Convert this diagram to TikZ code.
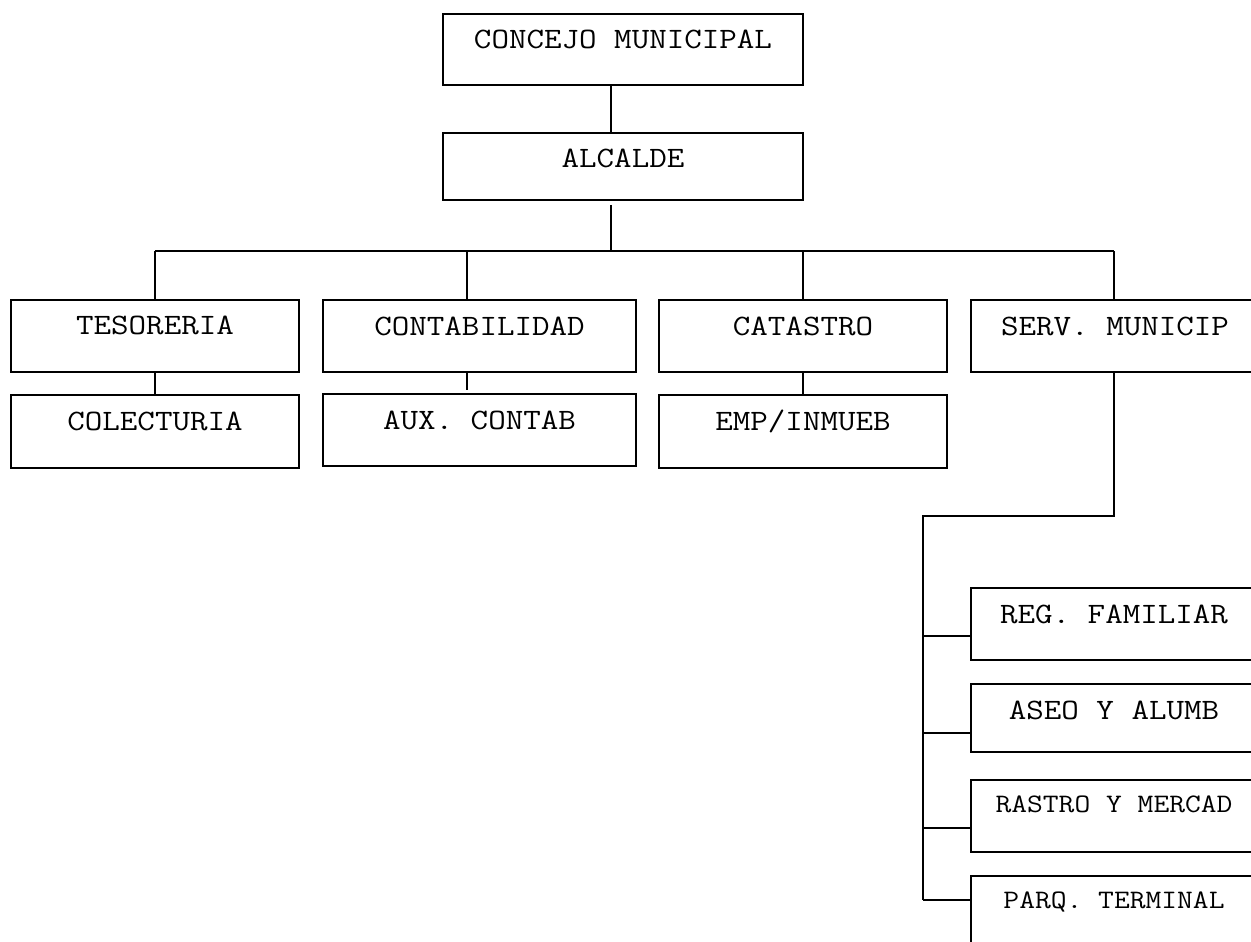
\documentclass[tikz,border=0pt]{standalone}
\usepackage{fontspec}
\setmainfont[FakeStretch=1.15]{Latin Modern Mono}
\usetikzlibrary{calc}
\tikzset{
  box/.style={draw=black, line width=1.4pt, rectangle, inner sep=0pt, outer sep=0pt},
  lbl/.style={anchor=base, inner sep=0pt, font=\fontsize{22.2pt}{26pt}\selectfont},
  lblsm/.style={anchor=base, inner sep=0pt, font=\fontsize{20pt}{24pt}\selectfont},
  conn/.style={draw=black, line width=1.4pt}
}
\begin{document}
\begin{tikzpicture}[x=0.75pt,y=-0.75pt]
\useasboundingbox (0,0) rectangle (1251,941);
\fill[white] (0,0) rectangle (1251,941);
\clip (0,0) rectangle (1251,941);
% boxes
\node[box, minimum width=360*0.75pt, minimum height=71*0.75pt] (cm) at (623,49.5) {};
\node[box, minimum width=360*0.75pt, minimum height=67*0.75pt] (al) at (623,166.5) {};
\node[box, minimum width=288*0.75pt, minimum height=72*0.75pt] (te) at (155,336) {};
\node[box, minimum width=288*0.75pt, minimum height=73*0.75pt] (co) at (155,431.5) {};
\node[box, minimum width=313*0.75pt, minimum height=72*0.75pt] (ct) at (479.5,336) {};
\node[box, minimum width=313*0.75pt, minimum height=72*0.75pt] (ax) at (479.5,430) {};
\node[box, minimum width=288*0.75pt, minimum height=72*0.75pt] (ca) at (803,336) {};
\node[box, minimum width=288*0.75pt, minimum height=73*0.75pt] (em) at (803,431.5) {};
\node[box, minimum width=288*0.75pt, minimum height=72*0.75pt] (sm) at (1115,336) {};
\node[box, minimum width=286*0.75pt, minimum height=72*0.75pt] (rf) at (1114,624) {};
\node[box, minimum width=286*0.75pt, minimum height=68*0.75pt] (as) at (1114,718) {};
\node[box, minimum width=286*0.75pt, minimum height=72*0.75pt] (rm) at (1114,816) {};
\node[box, minimum width=286*0.75pt, minimum height=72*0.75pt] (pt) at (1114,912) {};
% labels
\node[lbl] (tcm) at ($(cm.north)+(0,35)$) {CONCEJO MUNICIPAL};
\node[lbl] (tal) at ($(al.north)+(0,35)$) {ALCALDE};
\node[lbl] (tte) at ($(te.north)+(0,34)$) {TESORERIA};
\node[lbl] (tco) at ($(co.north)+(0,35)$) {COLECTURIA};
\node[lbl] (tct) at ($(ct.north)+(0,35)$) {CONTABILIDAD};
\node[lbl] (tax) at ($(ax.north)+(0,35)$) {AUX. CONTAB};
\node[lbl] (tca) at ($(ca.north)+(0,35)$) {CATASTRO};
\node[lbl] (tem) at ($(em.north)+(0,35)$) {EMP/INMUEB};
\node[lbl] (tsm) at ($(sm.north)+(0,35)$) {SERV. MUNICIP};
\node[lbl] (trf) at ($(rf.north)+(0,35)$) {REG. FAMILIAR};
\node[lbl] (tas) at ($(as.north)+(0,35)$) {ASEO Y ALUMB};
\node[lblsm] (trm) at ($(rm.north)+(0,32)$) {RASTRO Y MERCAD};
\node[lblsm] (tpt) at ($(pt.north)+(0,32)$) {PARQ. TERMINAL};
% helper coordinates
\coordinate (xa) at (611,0);
\coordinate (xc) at (467,0);
\coordinate (xs) at (1114,0);
\coordinate (bus) at (0,251);
\coordinate (ja) at (611,205);
\coordinate (js) at (1114,516);
\coordinate (jl) at (923,516);
\coordinate (jb) at (923,900);
\coordinate (y1) at (0,636);
\coordinate (y2) at (0,733);
\coordinate (y3) at (0,828);
% connectors
\draw[conn] (cm.south -| xa) -- (al.north -| xa);
\draw[conn] (ja) -- (ja |- bus);
\draw[conn] (te.north |- bus) -- (xs |- bus);
\draw[conn] (te.north |- bus) -- (te.north);
\draw[conn] (xc |- bus) -- (ct.north -| xc);
\draw[conn] (ca.north |- bus) -- (ca.north);
\draw[conn] (xs |- bus) -- (sm.north -| xs);
\draw[conn] (te.south) -- (co.north);
\draw[conn] (ct.south -| xc) -- ($(ax.north -| xc)+(0,-4)$);
\draw[conn] (ca.south) -- (em.north);
\draw[conn] (sm.south -| xs) -- (js) -- (jl) -- (jb);
\draw[conn] (jl |- y1) -- (rf.west |- y1);
\draw[conn] (jl |- y2) -- (as.west |- y2);
\draw[conn] (jl |- y3) -- (rm.west |- y3);
\draw[conn] (jb) -- (jb -| pt.west);
\end{tikzpicture}
\end{document}
